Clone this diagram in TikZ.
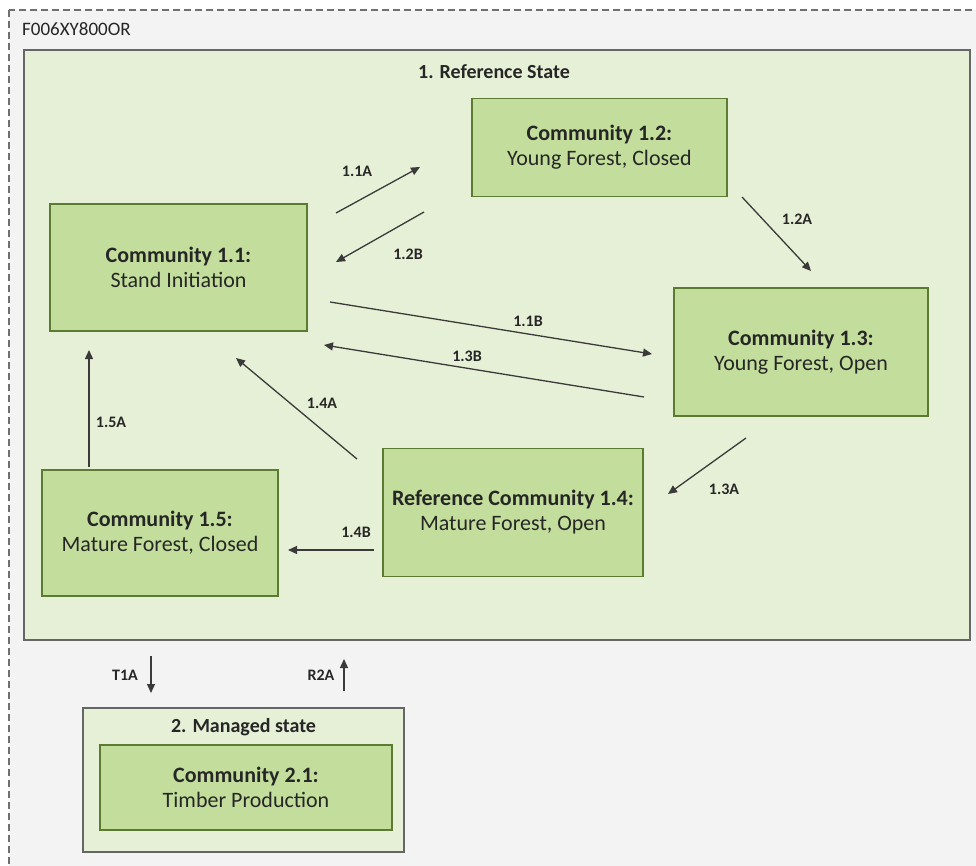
\documentclass[tikz,border=0pt]{standalone}
\usepackage{fontspec}
\setmainfont{Carlito}
\usetikzlibrary{arrows.meta}
\definecolor{outerbg}{HTML}{F3F3F3}
\definecolor{outerline}{HTML}{707070}
\definecolor{statebg}{HTML}{E6F0D6}
\definecolor{commbg}{HTML}{C3DE9C}
\definecolor{commline}{HTML}{5B7A32}
\definecolor{stateline}{HTML}{666666}
\definecolor{arrowc}{HTML}{3A3A3A}
\definecolor{txt}{HTML}{262626}
\begin{document}
\begin{tikzpicture}[x=1pt,y=-1pt,
  statebox/.style={draw=stateline, line width=1.5pt, fill=statebg, inner sep=0pt},
  commbox/.style={draw=commline, line width=1.5pt, fill=commbg, inner sep=0pt},
  commtext/.style={align=center, text=txt, font=\fontsize{22}{25}\selectfont, inner sep=0pt},
  lbl/.style={text=txt, font=\fontsize{16}{18}\selectfont\bfseries, inner sep=0pt},
  arr/.style={draw=arrowc, line width=1.3pt, -{Triangle[length=9pt,width=8pt]}}
]
\useasboundingbox (0,0) rectangle (976,866);
\fill[white] (0,0) rectangle (976,866);
\draw[outerline, fill=outerbg, line width=1.2pt, dash pattern=on 7pt off 4pt] (9,10) rectangle (990,880);
\node[anchor=west, text=txt, font=\fontsize{19}{21}\selectfont, inner sep=0pt] (code) at (22,29) {F006XY800OR};

% reference state
\node[statebox, minimum width=946pt, minimum height=590pt] (ref) at (497,345) {};
\node[text=txt, font=\fontsize{20}{23}\selectfont\bfseries, inner sep=0pt] (reft) at (494,72) {1. Reference State};

% communities
\node[commbox, minimum width=257pt, minimum height=127pt] (c11) at (178.5,267.5) {};
\node[commtext] (c11t) at (c11.center) {\textbf{Community 1.1:}\\Stand Initiation};

\node[commbox, minimum width=255pt, minimum height=98pt] (c12) at (599.5,147.5) {};
\node[commtext] (c12t) at (c12.center) {\textbf{Community 1.2:}\\Young Forest, Closed};

\node[commbox, minimum width=254pt, minimum height=128pt] (c13) at (801,352) {};
\node[commtext] (c13t) at (c13.center) {\textbf{Community 1.3:}\\Young Forest, Open};

\node[commbox, minimum width=260pt, minimum height=128pt] (c14) at (513,512.5) {};
\node[commtext] (c14t) at (c14.center) {\textbf{Reference Community 1.4:}\\Mature Forest, Open};

\node[commbox, minimum width=236pt, minimum height=126pt] (c15) at (160,533) {};
\node[commtext] (c15t) at (c15.center) {\textbf{Community 1.5:}\\Mature Forest, Closed};

% managed state
\node[statebox, minimum width=321pt, minimum height=144pt] (man) at (243.5,780) {};
\node[text=txt, font=\fontsize{20}{23}\selectfont\bfseries, inner sep=0pt] (mant) at (243.5,727) {2. Managed state};
\node[commbox, minimum width=292pt, minimum height=85pt] (c21) at (246,787.5) {};
\node[commtext] (c21t) at (c21.center) {\textbf{Community 2.1:}\\Timber Production};

% arrow end points
\coordinate (a11As) at (336,213); \coordinate (a11Ae) at (420,167);
\coordinate (a12Bs) at (424,212); \coordinate (a12Be) at (336,262);
\coordinate (a12As) at (742,197); \coordinate (a12Ae) at (811,271);
\coordinate (a11Bs) at (330,302); \coordinate (a11Be) at (652,354);
\coordinate (a13Bs) at (644,397); \coordinate (a13Be) at (324,345);
\coordinate (a13As) at (746,438); \coordinate (a13Ae) at (668,494);
\coordinate (a14As) at (357,459); \coordinate (a14Ae) at (236,358);
\coordinate (a15As) at (89,467);  \coordinate (a15Ae) at (89,350);
\coordinate (a14Bs) at (374,550); \coordinate (a14Be) at (288,550);
\coordinate (t1as) at (151,656);  \coordinate (t1ae) at (151,693);
\coordinate (r2as) at (344,691);  \coordinate (r2ae) at (344,659);

\draw[arr] (a11As) -- (a11Ae);
\draw[arr] (a12Bs) -- (a12Be);
\draw[arr] (a12As) -- (a12Ae);
\draw[arr] (a11Bs) -- (a11Be);
\draw[arr] (a13Bs) -- (a13Be);
\draw[arr] (a13As) -- (a13Ae);
\draw[arr] (a14As) -- (a14Ae);
\draw[arr] (a15As) -- (a15Ae);
\draw[arr] (a14Bs) -- (a14Be);
\draw[arr] (t1as) -- (t1ae);
\draw[arr] (r2as) -- (r2ae);

% labels
\node[lbl] (l11A) at (357,171) {1.1A};
\node[lbl] (l12B) at (408,254) {1.2B};
\node[lbl] (l12A) at (797,219) {1.2A};
\node[lbl] (l11B) at (528,321) {1.1B};
\node[lbl] (l13B) at (467,356) {1.3B};
\node[lbl] (l13A) at (724,489) {1.3A};
\node[lbl] (l14A) at (322,403) {1.4A};
\node[lbl] (l15A) at (111,422) {1.5A};
\node[lbl] (l14B) at (356,532) {1.4B};
\node[lbl] (lT1A) at (125,675) {T1A};
\node[lbl] (lR2A) at (321,675) {R2A};
\end{tikzpicture}
\end{document}
